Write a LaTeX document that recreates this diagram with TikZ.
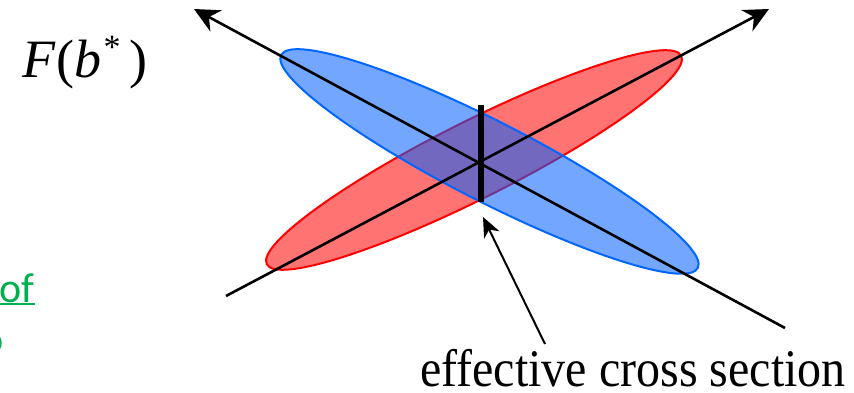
\documentclass[tikz,border=0pt]{standalone}
\usepackage{fontspec}
\setmainfont{Liberation Serif}
\newfontfamily\calib{Carlito}
\usetikzlibrary{arrows.meta}
\definecolor{redfill}{RGB}{255,0,0}
\definecolor{bluefill}{RGB}{0,95,255}
\definecolor{blueline}{RGB}{0,102,255}
\definecolor{greentext}{RGB}{0,176,80}
\begin{document}
\begin{tikzpicture}[x=1pt,y=-1pt,
  axisline/.style={line width=2.6pt, draw=black},
  bigtip/.style={-{Stealth[length=25pt,width=24pt,inset=8pt]}},
  smalltip/.style={-{Stealth[length=20pt,width=17pt,inset=6pt]}},
  greenlbl/.style={anchor=base east, inner sep=0pt, text=greentext, font=\calib\fontsize{42}{42}\selectfont},
 ]
\useasboundingbox (0,0) rectangle (854,393);
\coordinate (rc) at (474,160);
\coordinate (bc) at (489.5,161.5);
% red ellipse
\fill[redfill, fill opacity=0.55, rotate around={26.7:(rc)}] (rc) ellipse [x radius=232, y radius=38.5];
\draw[red, line width=2pt, rotate around={26.7:(rc)}] (rc) ellipse [x radius=232, y radius=38.5];
% blue ellipse
\fill[bluefill, fill opacity=0.55, rotate around={-27.06:(bc)}] (bc) ellipse [x radius=234, y radius=40];
\draw[blueline, line width=2pt, rotate around={-27.06:(bc)}] (bc) ellipse [x radius=234, y radius=40];
% axes
\coordinate (a1s) at (226,296);
\coordinate (a1e) at (769,9);
\coordinate (a2s) at (785,328);
\coordinate (a2e) at (194,9);
\draw[axisline, bigtip] (a1s) -- (a1e);
\draw[axisline, bigtip] (a2s) -- (a2e);
% cross section bar
\coordinate (bt) at (481,105);
\coordinate (bb) at (481,202);
\draw[line width=6.5pt] (bt) -- (bb);
% label and pointer
\node[anchor=base west, inner sep=0pt, font=\fontsize{48}{48}\selectfont] (lab) at (420,386) {\scalebox{1}[1.1]{effective cross section}};
\coordinate (pfrom) at (545,344);
\coordinate (pto) at (483,217);
\draw[line width=2pt, smalltip] (pfrom) -- (pto);
% F(b*)
\node[anchor=base west, inner sep=0pt, font=\fontsize{54}{54}\selectfont] (F) at (22,78) {\textit{F}\kern1pt(\textit{b}\kern2pt\raisebox{19pt}{\fontsize{34}{34}\selectfont *}\kern9pt)};
% green text fragments
\node[greenlbl] (of) at (35,302) {of};
\draw[greentext, line width=2pt] ([yshift=-2pt]of.south west) -- ([yshift=-2pt]of.south east);
\node[greenlbl] (frag) at (4,353) {o};
\end{tikzpicture}
\end{document}
